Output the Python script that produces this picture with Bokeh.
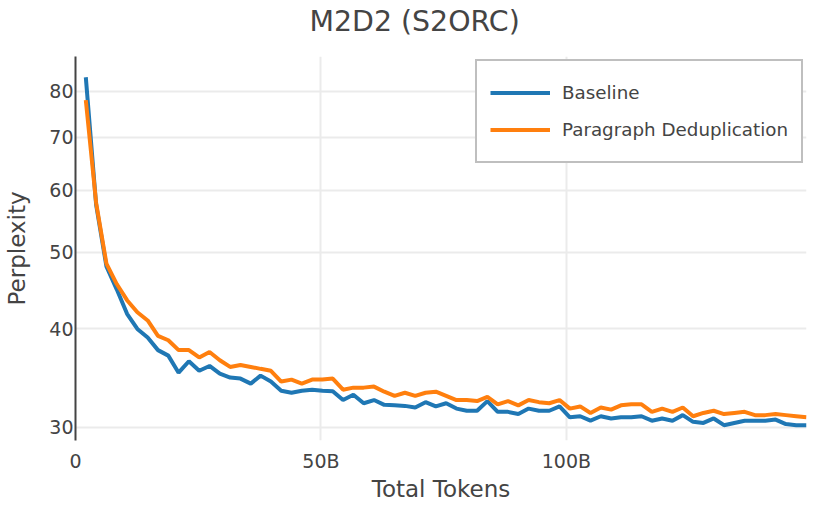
from bokeh.plotting import figure
from bokeh.models import FixedTicker, Legend, LegendItem, Range1d, BasicTickFormatter, Title
from bokeh.embed import file_html
from bokeh.resources import INLINE

# ---- data ----
tokens_b = [2.1, 4.2, 6.3, 8.4, 10.5, 12.6, 14.7, 16.8, 18.9, 21.0,
            23.1, 25.2, 27.3, 29.4, 31.5, 33.6, 35.7, 37.7, 39.8, 41.9,
            44.0, 46.1, 48.2, 50.3, 52.4, 54.5, 56.6, 58.7, 60.8, 62.9,
            65.0, 67.1, 69.2, 71.3, 73.4, 75.5, 77.6, 79.7, 81.8, 83.9,
            86.0, 88.1, 90.2, 92.3, 94.4, 96.5, 98.6, 100.7, 102.8, 104.9,
            107.0, 109.1, 111.1, 113.2, 115.3, 117.4, 119.5, 121.6, 123.7, 125.8,
            127.9, 130.0, 132.1, 134.2, 136.3, 138.4, 140.5, 142.6, 144.7, 146.8,
            148.9]

baseline = [83.4, 57.5, 48.0, 44.9, 41.8, 40.0, 39.0, 37.6, 37.0, 35.2,
            36.4, 35.4, 35.9, 35.1, 34.7, 34.6, 34.1, 34.9, 34.3, 33.4,
            33.2, 33.4, 33.5, 33.4, 33.35, 32.5, 33.0, 32.2, 32.5, 32.05,
            32.0, 31.95, 31.8, 32.3, 31.9, 32.2, 31.7, 31.5, 31.5, 32.4,
            31.4, 31.4, 31.2, 31.7, 31.5, 31.5, 31.9, 30.9, 31.0, 30.6,
            31.0, 30.8, 30.9, 30.9, 31.0, 30.6, 30.8, 30.6, 31.1, 30.5,
            30.4, 30.8, 30.2, 30.4, 30.6, 30.6, 30.6, 30.7, 30.3, 30.2,
            30.2]

para_dedup = [78.0, 57.8, 48.4, 45.6, 43.5, 42.0, 41.0, 39.2, 38.7, 37.6,
              37.6, 36.8, 37.4, 36.5, 35.8, 36.0, 35.8, 35.6, 35.4, 34.3,
              34.5, 34.1, 34.5, 34.5, 34.6, 33.5, 33.7, 33.7, 33.8, 33.3,
              32.9, 33.2, 32.9, 33.2, 33.3, 32.9, 32.5, 32.5, 32.4, 32.8,
              32.1, 32.4, 32.0, 32.5, 32.3, 32.2, 32.5, 31.7, 31.9, 31.3,
              31.8, 31.6, 32.0, 32.1, 32.1, 31.4, 31.7, 31.4, 31.8, 31.0,
              31.3, 31.5, 31.2, 31.3, 31.4, 31.1, 31.1, 31.2, 31.1, 31.0,
              30.9]

series_names = ["Baseline", "Paragraph Deduplication"]
chart_title = "M2D2 (S2ORC)"
x_ticks = [0, 50, 100]
x_tick_labels = {0: "0", 50: "50B", 100: "100B"}
y_ticks = [30, 40, 50, 60, 70, 80]

FONT = "DejaVu Sans"
TEXT = "#444444"
BLUE = "#1f77b4"
ORANGE = "#ff7f0e"

p = figure(width=814, height=504, output_backend="svg", toolbar_location=None,
           y_axis_type="log",
           x_range=Range1d(0, 148.9), y_range=Range1d(28.88, 88.6),
           min_border_left=75, min_border_right=8,
           min_border_top=56, min_border_bottom=64)

p.background_fill_color = "white"
p.border_fill_color = "white"
p.outline_line_color = None

# title: a small blank spacer panel next to the frame, then the title above it
spacer = Title(text=" ", text_font_size="8px", standoff=6)
p.add_layout(spacer, "above")
main_title = Title(text=chart_title, align="left", offset=234, vertical_align="top",
                   standoff=0, text_font=FONT, text_font_size="28.4px",
                   text_font_style="normal", text_color=TEXT)
p.add_layout(main_title, "above")

# lines
r1 = p.line(tokens_b, baseline, line_color=BLUE, line_width=4)
r2 = p.line(tokens_b, para_dedup, line_color=ORANGE, line_width=4)

# y axis
ya = p.yaxis[0]
ya.ticker = FixedTicker(ticks=y_ticks)
ya.formatter = BasicTickFormatter()
ya.axis_label = "Perplexity"
ya.axis_label_text_font = FONT
ya.axis_label_text_font_size = "23px"
ya.axis_label_text_font_style = "normal"
ya.axis_label_text_color = TEXT
ya.axis_label_standoff = 16
ya.major_label_text_font = FONT
ya.major_label_text_font_size = "19px"
ya.major_label_text_color = TEXT
ya.major_label_standoff = 2
ya.major_tick_out = 0
ya.major_tick_in = 0
ya.minor_tick_out = 0
ya.minor_tick_in = 0
ya.major_tick_line_color = None
ya.minor_tick_line_color = None
ya.axis_line_color = TEXT
ya.axis_line_width = 2

# x axis
xa = p.xaxis[0]
xa.ticker = FixedTicker(ticks=x_ticks)
xa.major_label_overrides = x_tick_labels
xa.axis_label = "Total Tokens"
xa.axis_label_text_font = FONT
xa.axis_label_text_font_size = "23px"
xa.axis_label_text_font_style = "normal"
xa.axis_label_text_color = TEXT
xa.axis_label_standoff = 1
xa.major_label_text_font = FONT
xa.major_label_text_font_size = "19px"
xa.major_label_text_color = TEXT
xa.major_label_standoff = 9
xa.major_tick_out = 0
xa.major_tick_in = 0
xa.minor_tick_out = 0
xa.minor_tick_in = 0
xa.major_tick_line_color = None
xa.minor_tick_line_color = None
xa.axis_line_color = None

# grids
p.xgrid.ticker = FixedTicker(ticks=x_ticks)
p.ygrid.ticker = FixedTicker(ticks=y_ticks)
for g in (p.xgrid[0], p.ygrid[0]):
    g.grid_line_color = "#ebebeb"
    g.grid_line_width = 2
p.ygrid.minor_grid_line_color = None

# legend
legend = Legend(items=[LegendItem(label=series_names[0], renderers=[r1]),
                       LegendItem(label=series_names[1], renderers=[r2])],
                location="top_right", margin=3,
                border_line_color="#808080", border_line_width=2,
                background_fill_color="white", background_fill_alpha=1.0,
                label_text_font=FONT, label_text_font_size="18.3px",
                label_text_color=TEXT,
                glyph_width=60, glyph_height=37, label_height=37,
                spacing=0, padding=13, label_standoff=12)
p.add_layout(legend)

open("out.html", "w").write(file_html(p, INLINE))
